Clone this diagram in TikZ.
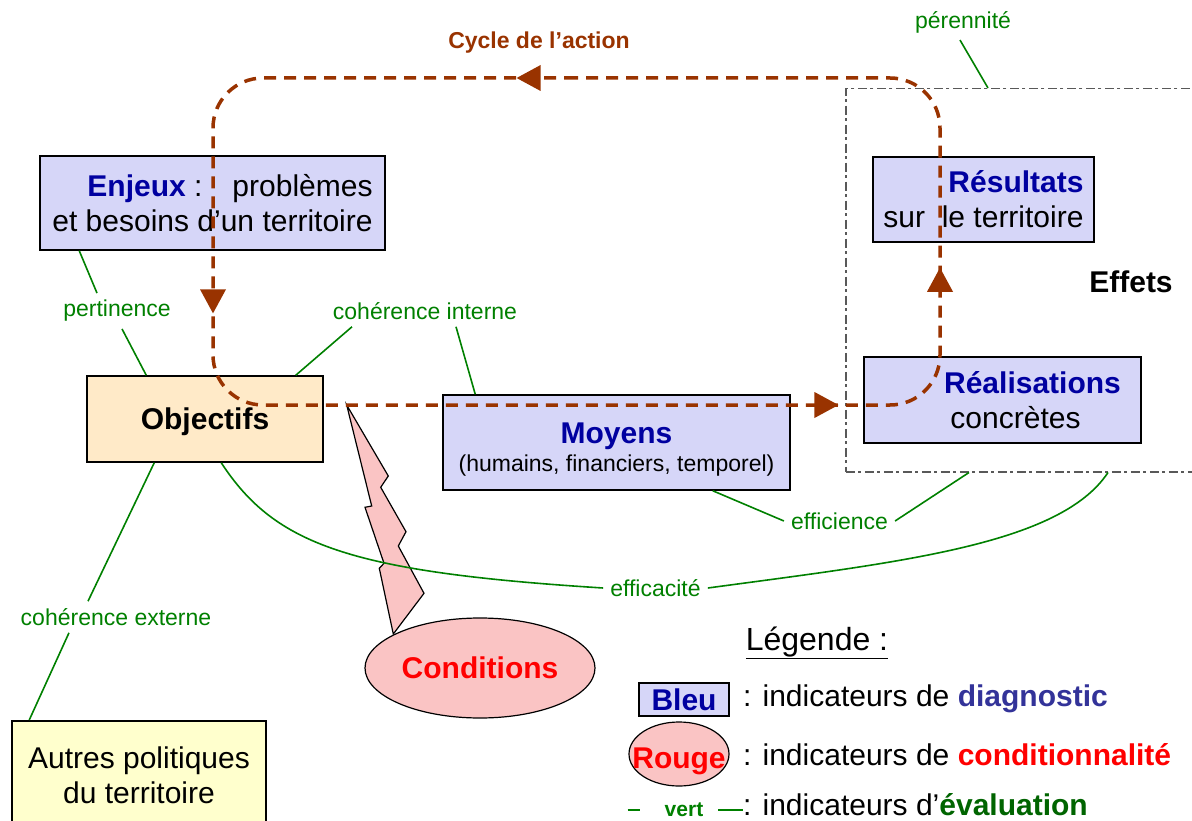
\documentclass[tikz,border=0pt]{standalone}
\usepackage{fontspec}
\setmainfont{Liberation Sans}
\usepackage{xcolor}
\definecolor{boxblue}{RGB}{214,214,248}
\definecolor{boxorange}{RGB}{255,234,200}
\definecolor{boxyellow}{RGB}{255,255,205}
\definecolor{boxred}{RGB}{250,196,196}
\definecolor{titleblue}{RGB}{0,0,160}
\definecolor{diagblue}{RGB}{51,51,153}
\definecolor{cyclebrown}{RGB}{153,51,0}
\definecolor{evalgreen}{RGB}{0,128,0}
\definecolor{darkgreen}{RGB}{0,100,0}
\usepackage{tikz}
\usetikzlibrary{
    shapes.geometric,
}

\begin{document}
\begin{tikzpicture}[%
    x=1pt, y=-1pt,
    every node/.style={inner sep=0, font=\fontsize{30}{35}\selectfont},
    indic/.style={
        draw=black,
        line width=1.5pt,
        fill=boxblue,
        align=center
    },
    objbox/.style={indic, fill=boxorange},
    autrebox/.style={indic, fill=boxyellow},
    condition/.style={
        ellipse,
        draw=black,
        line width=1.2pt,
        fill=boxred
    },
    effetsbox/.style={
        draw=black!65,
        line width=1.5pt,
        dash pattern=on 9pt off 3.5pt on 3pt off 3.5pt
    },
    critere/.style={
        text=evalgreen,
        inner sep=7pt,
        font=\fontsize{23}{27}\selectfont
    },
    evalline/.style={draw=evalgreen, line width=1.6pt},
    cyclepath/.style={
        draw=cyclebrown,
        line width=3.5pt,
        dash pattern=on 12pt off 8pt,
        rounded corners=50pt
    },
    fleche/.style={
        isosceles triangle,
        isosceles triangle stretches,
        minimum width=26pt,
        minimum height=24pt,
        fill=cyclebrown,
        sloped,
        allow upside down
    }
]

\clip (0,0) rectangle (1192,821);

% boites
\node [indic, align=right, minimum width=345pt, minimum height=94pt] (enjeux) at (212.5,203)
    {\textcolor{titleblue}{\textbf{Enjeux}} :\quad problèmes\\et besoins d’un territoire};
\node [objbox, minimum width=236pt, minimum height=86pt, text depth=0pt] (objectifs) at (205,419) {\textbf{Objectifs}};
\node [indic, minimum width=347pt, minimum height=95pt] (moyens) at (616.5,442.5) {};
\node [align=center, font=\fontsize{23}{28}\selectfont] (moyenstexte) at (616.5,450)
    {{\fontsize{30}{30}\selectfont\textcolor{titleblue}{\textbf{Moyens}}}\\(humains, financiers, temporel)};
\node [effetsbox, minimum width=370pt, minimum height=383pt, anchor=north west] (effets) at (845,88) {};
\node [indic, minimum width=277pt, minimum height=86pt] (realisations) at (1002.5,400)
    {\hspace*{60pt}\textcolor{titleblue}{\textbf{Réalisations}}\\\hspace*{26pt}concrètes};
\node [indic, align=right, minimum width=221pt, minimum height=85pt] (resultats) at (983.5,199.5)
    {\textcolor{titleblue}{\textbf{Résultats}}\\sur\ \ le territoire};
\node (effetstitre) at (1131,282) {\textbf{Effets}};
\node [autrebox, minimum width=254pt, minimum height=110pt, anchor=north] (autres) at (139,720)
    {Autres politiques\\du territoire};

% eclair
\draw [line width=1.2pt, fill=boxred, line join=miter]
    (346.7,405) -- (388.3,476) -- (380.7,487.3) -- (406,531.7) -- (398.3,546)
    -- (424,593.3) -- (393.3,634) -- (379.3,568.3) -- (384,563.3)
    -- (365,507.3) -- (371.7,506) -- cycle;
\node [condition, minimum width=230pt, minimum height=100pt, text depth=0pt] (conditions) at (480,668)
    {\textcolor{red}{\textbf{Conditions}}};

% criteres
\node [critere] (pert) at (117,311) {pertinence};
\node [critere] (cohint) at (425,311) {cohérence interne};
\node [critere] (cohext) at (116,617) {cohérence externe};
\node [critere] (effic) at (839.5,521) {efficience};
\node [critere] (effca) at (655.5,588) {efficacité};
\node [critere] (pere) at (963,22) {pérennité};

\draw [evalline] ([xshift=40pt]enjeux.south west) -- ([xshift=-20pt]pert.north);
\draw [evalline] ([xshift=5pt]pert.south) -- ([xshift=60pt]objectifs.north west);
\draw [evalline] ([xshift=-28pt]objectifs.north east) -- ([xshift=-73pt]cohint.south);
\draw [evalline] ([xshift=31pt]cohint.south) -- ([xshift=33pt]moyens.north west);
\draw [evalline] ([xshift=68pt]objectifs.south west) -- ([xshift=-28pt]cohext.north);
\draw [evalline] ([xshift=-47pt]cohext.south) -- ([xshift=18pt]autres.north west);
\draw [evalline] ([xshift=-78pt]moyens.south east) -- (effic.west);
\draw [evalline] (effic.east) -- ([xshift=124pt]effets.south west);
\draw [evalline] ([xshift=135pt]objectifs.south west) .. controls (275,545) and (350,572) .. (effca.west);
\draw [evalline] (effca.east) .. controls (900,562) and (1060,545) .. ([xshift=263pt]effets.south west);
\draw [evalline] ([xshift=-3pt]pere.south) -- ([xshift=143pt]effets.north west);

% cycle de l'action
\coordinate (c-top) at (576,78);
\coordinate (c-tl) at (213,78);
\coordinate (c-bl) at (213,405);
\coordinate (c-br) at (940,405);
\coordinate (c-tr) at (940,78);
\draw [cyclepath] (c-top) -- (c-tl) -- (c-bl) -- (c-br) -- (c-tr) -- (c-top);
\path (c-tl) -- (c-bl) node [fleche, pos=0.67] {};
\path (c-bl) -- (c-br) node [fleche, pos=0.838] {};
\path (c-br) -- (c-tr) node [fleche, pos=0.37] {};
\path (c-tr) -- (c-tl) node [fleche, pos=0.56] {};
\node [text=cyclebrown, font=\bfseries\fontsize{23}{27}\selectfont] (cycle) at (539,43) {Cycle de l’action};

% legende
\node (legende) at (817,643) {\fontsize{32}{36}\selectfont\underline{Légende :}};
\node [indic, minimum width=90pt, minimum height=33pt, text depth=0pt] (bleu) at (684,699.5) {\textcolor{titleblue}{\textbf{Bleu}}};
\node [anchor=west] (diag) at (743,699) {: indicateurs de \textcolor{diagblue}{\textbf{diagnostic}}};
\node [condition, minimum width=100pt, minimum height=64pt, text height=28pt, text depth=0pt] (rouge) at (679,754)
    {\makebox[0pt]{\textcolor{red}{\textbf{Rouge}}}};
\node [anchor=west] (condit) at (743,755) {: indicateurs de \textcolor{red}{\textbf{conditionnalité}}};
\node [text=evalgreen, font=\bfseries\fontsize{21}{24}\selectfont] (vert) at (684,810) {vert};
\node [anchor=west] (evalu) at (743,805) {: indicateurs d’\textcolor{darkgreen}{\textbf{évaluation}}};
\draw [evalline] ([xshift=-37pt]vert.west) -- ([xshift=-25pt]vert.west);
\draw [evalline] ([xshift=15pt]vert.east) -- (vert.east -| evalu.west);

\end{tikzpicture}
\end{document}
